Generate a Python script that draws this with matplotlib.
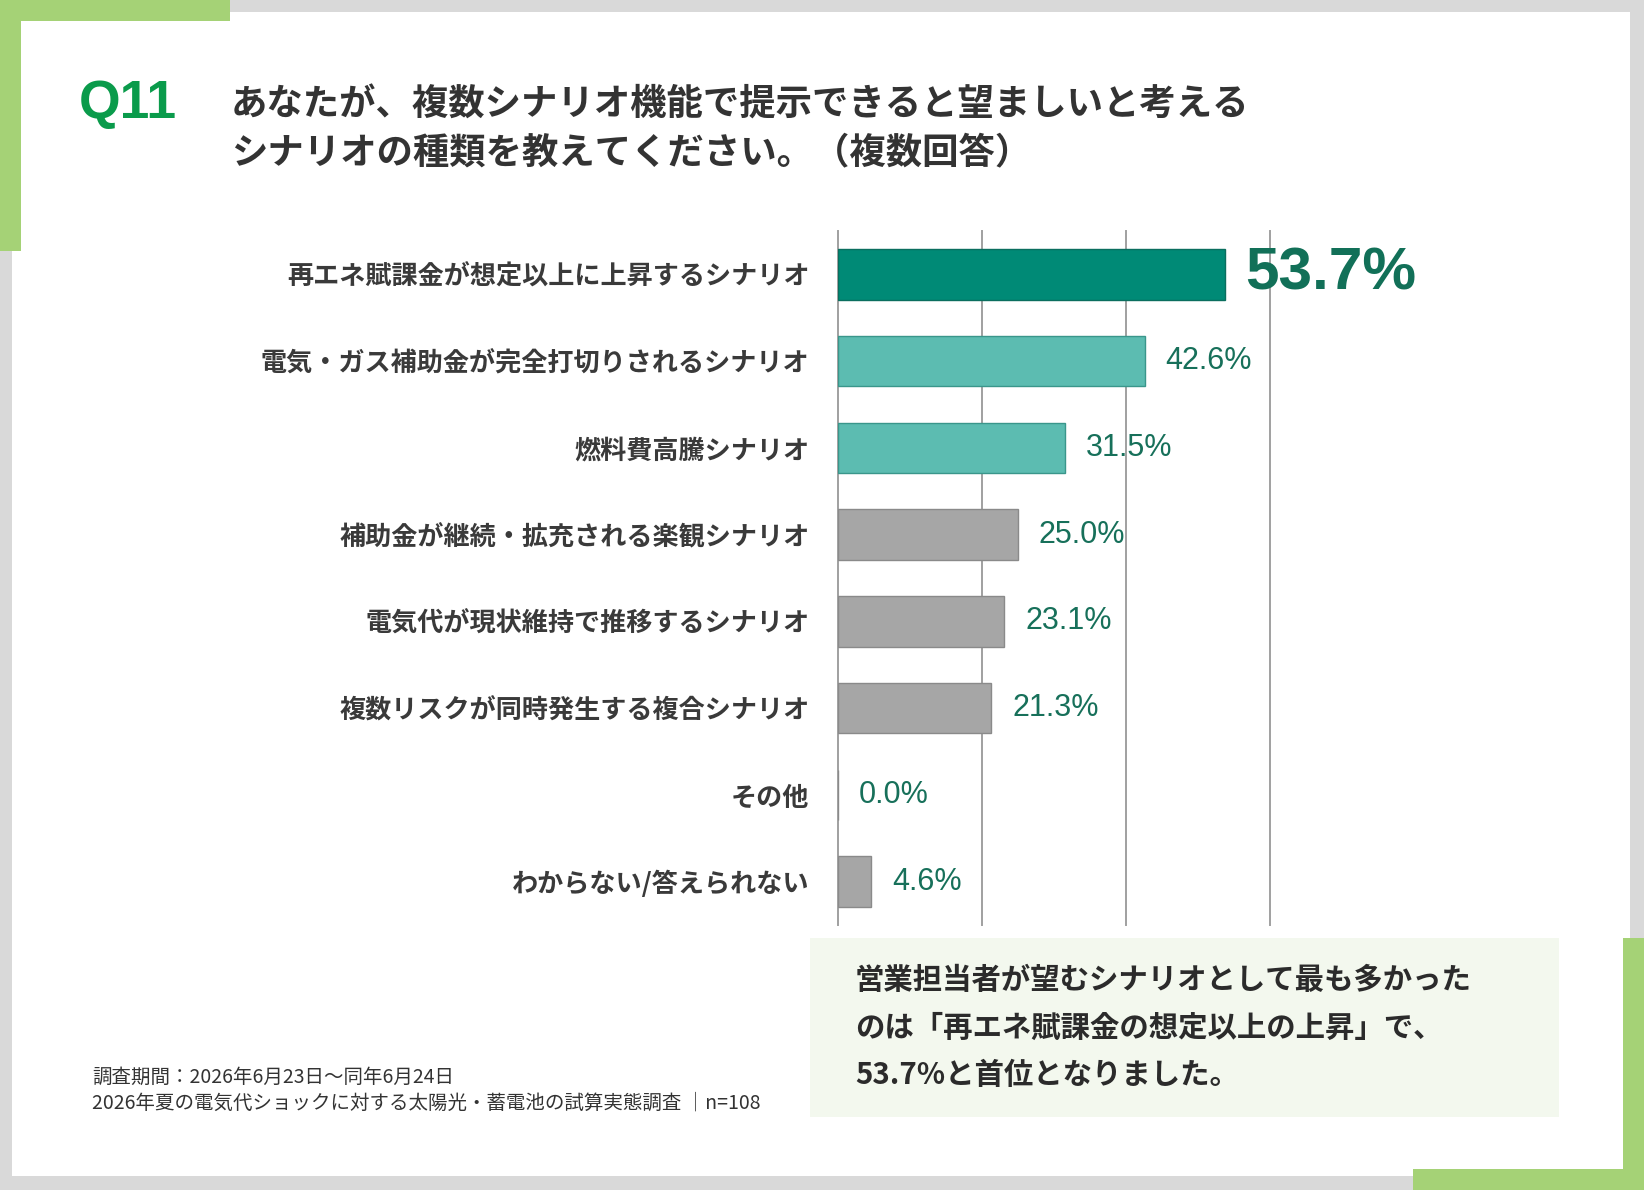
import matplotlib
matplotlib.use("Agg")
import matplotlib.pyplot as plt
from matplotlib.patches import Rectangle

plt.rcParams['font.family'] = ['Noto Sans CJK JP', 'DejaVu Sans']

categories = [
    "再エネ賦課金が想定以上に上昇するシナリオ",
    "電気・ガス補助金が完全打切りされるシナリオ",
    "燃料費高騰シナリオ",
    "補助金が継続・拡充される楽観シナリオ",
    "電気代が現状維持で推移するシナリオ",
    "複数リスクが同時発生する複合シナリオ",
    "その他",
    "わからない/答えられない",
]
values = [53.7, 42.6, 31.5, 25.0, 23.1, 21.3, 0.0, 4.6]
value_labels = ["53.7%", "42.6%", "31.5%", "25.0%", "23.1%", "21.3%", "0.0%", "4.6%"]
gridticks = [0, 20, 40, 60]

title_q = "Q11"
title_lines = ["あなたが、複数シナリオ機能で提示できると望ましいと考える",
               "シナリオの種類を教えてください。（複数回答）"]
box_lines = ["営業担当者が望むシナリオとして最も多かった",
             "のは「再エネ賦課金の想定以上の上昇」で、",
             "53.7%と首位となりました。"]
footer_lines = ["調査期間：2026年6月23日～同年6月24日",
                "2026年夏の電気代ショックに対する太陽光・蓄電池の試算実態調査 │n=108"]

W, H = 1644, 1190
fig = plt.figure(figsize=(W / 100, H / 100), dpi=100)
fig.patch.set_facecolor('white')

def fx(px):
    return px / W

def fy(py):
    return 1 - py / H

def rect(x0, y0, x1, y1, color, z=0):
    fig.patches.append(Rectangle((fx(x0), fy(y1)), fx(x1) - fx(x0), fy(y0) - fy(y1),
                                 transform=fig.transFigure, facecolor=color,
                                 edgecolor='none', zorder=z))

frame_gray = '#d9d9d9'
frame_green = '#a5d276'
# gray frame
rect(0, 0, W, 12, frame_gray)
rect(0, 0, 12, H, frame_gray)
rect(0, 1176, W, H, frame_gray)
rect(1630, 0, W, H, frame_gray)
# green corners
rect(0, 0, 230, 21, frame_green, 1)
rect(0, 0, 21, 251, frame_green, 1)
rect(1413, 1169, W, H, frame_green, 1)
rect(1623, 938, W, H, frame_green, 1)
# summary box
rect(810, 938, 1559, 1117, '#f3f8ee', 1)

# title
fig.text(fx(79), fy(104), title_q, fontsize=38.5, fontweight='bold', color='#0a9b4b',
         family=['Liberation Sans', 'DejaVu Sans'], va='center', ha='left')
for i, line in enumerate(title_lines):
    fig.text(fx(231), fy(105 + 48 * i), line, fontsize=26.2, fontweight='bold',
             color='#333333', va='center', ha='left')

# box text
for i, line in enumerate(box_lines):
    fig.text(fx(855), fy(980 + 47.5 * i), line, fontsize=21.2, fontweight='bold',
             color='#2b2b2b', va='center', ha='left', zorder=3)

# footer
for i, line in enumerate(footer_lines):
    fig.text(fx(92), fy(1077 + 26 * i), line, fontsize=14, color='#333333',
             va='center', ha='left')

# chart
ax_left, ax_right, ax_top, ax_bottom = 838, 1270, 231, 925
ax = fig.add_axes([fx(ax_left), fy(ax_bottom), fx(ax_right) - fx(ax_left),
                   fy(ax_top) - fy(ax_bottom)])
ax.set_facecolor('none')
ypos = list(range(len(categories)))
facecolors = ['#008a76', '#5cbcb1', '#5cbcb1'] + ['#a6a6a6'] * 5
edgecolors = ['#0a6e5e', '#3a968b', '#3a968b'] + ['#8a8a8a'] * 5
bars = ax.barh(ypos, values, height=0.58, color=facecolors, edgecolor=edgecolors,
               linewidth=1.0, zorder=2)
ax.set_xlim(0, 60)
ax.set_ylim(len(categories) - 0.5, -0.5)
for t in gridticks:
    ax.axvline(t, color='#a0a0a0', linewidth=1.4, zorder=1, clip_on=False)
for s in ax.spines.values():
    s.set_visible(False)
ax.set_xticks([])
ax.set_yticks(ypos)
ax.set_yticklabels(categories, fontsize=18.8, fontweight='bold', color='#3a3a3a')
ax.tick_params(axis='y', length=0, pad=20.5)

texts = ax.bar_label(bars, labels=value_labels, padding=15, color='#17705a',
                     fontsize=22, family=['Liberation Sans Narrow', 'Liberation Sans', 'DejaVu Sans'])
texts[0].set_fontsize(43.5)
texts[0].set_fontweight('bold')
texts[0].set_color('#127058')

fig.savefig('out.png', dpi=100, facecolor='white')
